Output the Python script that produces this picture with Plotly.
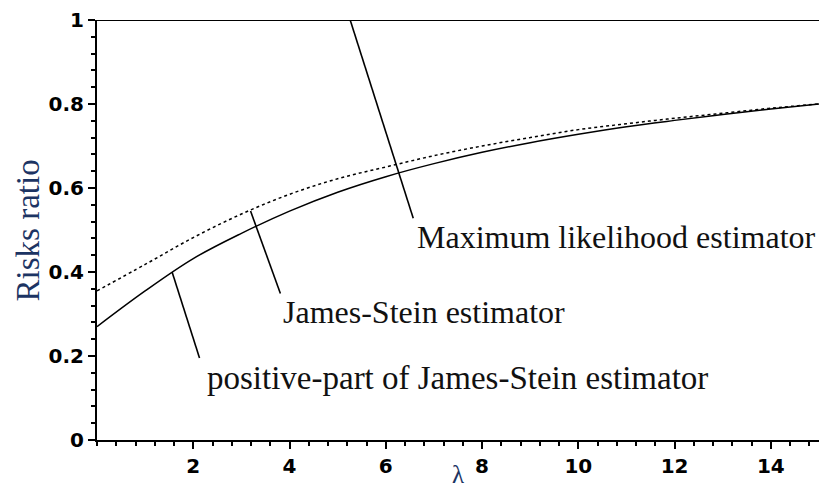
import plotly.graph_objects as go

# lambda grid and risk ratios
lam = [0, 1, 2, 3, 4, 5, 6, 7, 8, 9, 10, 11, 12, 13, 14, 15]
js_risk = [0.355, 0.418, 0.482, 0.538, 0.585, 0.622, 0.650, 0.677, 0.700, 0.720, 0.739, 0.753, 0.766, 0.778, 0.790, 0.800]
pp_risk = [0.270, 0.355, 0.432, 0.492, 0.545, 0.590, 0.627, 0.658, 0.685, 0.708, 0.728, 0.746, 0.761, 0.775, 0.788, 0.800]
ml_lam = [0, 15]
ml_risk = [1.0, 1.0]

x_ticks = [2, 4, 6, 8, 10, 12, 14]
y_ticks = [0, 0.2, 0.4, 0.6, 0.8, 1]
y_tick_labels = ["0", "0.2", "0.4", "0.6", "0.8", "1"]

# labels: text, pointer start (on curve), pointer end, text anchor, font size
labels = [
    ("Maximum likelihood estimator", (5.26, 1.0), (6.57, 0.528), (6.61, 0.483), 32),
    ("James-Stein estimator", (3.19, 0.545), (3.81, 0.349), (3.83, 0.305), 32),
    ("positive-part of James-Stein estimator", (1.56, 0.40), (2.13, 0.195), (2.25, 0.148), 33),
]

fig = go.Figure()
fig.add_trace(go.Scatter(x=ml_lam, y=ml_risk, mode="lines",
                         line=dict(color="black", width=2), cliponaxis=False))
fig.add_trace(go.Scatter(x=lam, y=js_risk, mode="lines", line_shape="spline",
                         line=dict(color="black", width=1.5, dash="dot")))
fig.add_trace(go.Scatter(x=lam, y=pp_risk, mode="lines", line_shape="spline",
                         line=dict(color="black", width=1.5)))

for text, p0, p1, pt, fs in labels:
    fig.add_trace(go.Scatter(x=[p0[0], p1[0]], y=[p0[1], p1[1]], mode="lines",
                             line=dict(color="black", width=1.6)))
    fig.add_annotation(x=pt[0], y=pt[1], xref="x", yref="y", text=text,
                       showarrow=False, xanchor="left", yanchor="middle",
                       font=dict(family="Liberation Serif", size=fs, color="#111111"))

fig.add_annotation(x=-0.095, y=0.5, xref="paper", yref="paper", text="Risks ratio",
                   textangle=-90, showarrow=False, xanchor="center", yanchor="middle",
                   font=dict(family="Liberation Serif", size=33, color="#1c3463"))
fig.add_annotation(x=0.5, y=-0.083, xref="paper", yref="paper", text="λ",
                   showarrow=False, xanchor="center", yanchor="middle",
                   font=dict(family="Liberation Serif", size=25, color="#1c3463"))

tickfont = dict(family="DejaVu Sans", size=20, color="black", weight="bold")
fig.update_xaxes(range=[0, 15], tickvals=x_ticks, ticks="outside", ticklen=7,
                 tickwidth=2, tickcolor="black", showline=True, linecolor="black",
                 linewidth=2, showgrid=False, zeroline=False, tickfont=tickfont,
                 minor=dict(dtick=0.4, tick0=0, ticks="outside", ticklen=4,
                            tickwidth=1.5, tickcolor="black", showgrid=False))
fig.update_yaxes(range=[0, 1], tickvals=y_ticks, ticktext=y_tick_labels,
                 ticks="outside", ticklen=7, tickwidth=2, tickcolor="black",
                 showline=True, linecolor="black", linewidth=2, showgrid=False,
                 zeroline=False, tickfont=tickfont,
                 minor=dict(dtick=0.04, tick0=0, ticks="outside", ticklen=4,
                            tickwidth=1.5, tickcolor="black", showgrid=False))
fig.update_layout(width=819, height=493, showlegend=False,
                  margin=dict(l=97, r=0, t=20, b=53),
                  paper_bgcolor="white", plot_bgcolor="white")
fig.write_html("out.html")
